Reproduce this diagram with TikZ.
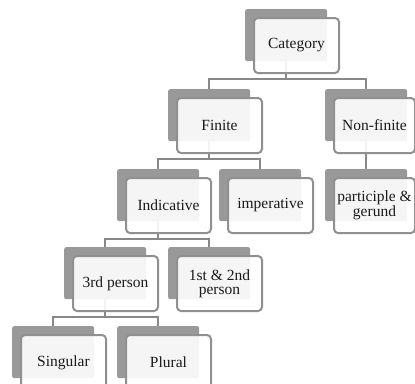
\documentclass[tikz,border=0pt]{standalone}
\usepackage{fontspec}
\setmainfont{Liberation Serif}
\definecolor{backgray}{HTML}{999999}
\definecolor{bordergray}{HTML}{909090}
\definecolor{linegray}{HTML}{888888}
\definecolor{textcol}{HTML}{1A1A1A}
\tikzset{
  backbox/.style={rectangle, fill=backgray, rounded corners=2pt, minimum width=82pt, minimum height=52pt, anchor=north west, inner sep=0pt},
  frontbox/.style={rectangle, draw=bordergray, line width=2pt, fill=white, fill opacity=0.9, text opacity=1, rounded corners=4pt, minimum width=85pt, minimum height=55pt, anchor=north west, align=center, inner sep=1pt, text=textcol, font=\fontsize{15.5}{14}\selectfont},
  conn/.style={draw=linegray, line width=2pt}
}
\begin{document}
\begin{tikzpicture}[x=1pt,y=-1pt]
\clip (0,0) rectangle (415,383);
\fill[white] (0,0) rectangle (415,383);
% back boxes
\node[backbox] (catB) at (245,9) {};
\node[backbox] (finB) at (168,89) {};
\node[backbox] (nfB) at (325,89) {};
\node[backbox] (indB) at (117,169) {};
\node[backbox] (impB) at (219,169) {};
\node[backbox] (partB) at (325,169) {};
\node[backbox] (thirdB) at (64,247) {};
\node[backbox] (firstB) at (168,247) {};
\node[backbox] (singB) at (12,326) {};
\node[backbox] (plurB) at (117,326) {};
% connectors
\draw[conn] (catB.south) -- ++(0,18) -| (finB.north);
\draw[conn] (catB.south) -- ++(0,18) -| (nfB.north);
\draw[conn] (nfB.south) -- (partB.north);
\draw[conn] (finB.south) -- ++(0,18) -| (indB.north);
\draw[conn] (finB.south) -- ++(0,18) -| (impB.north);
\draw[conn] (indB.south) -- ++(0,18) -| (thirdB.north);
\draw[conn] (indB.south) -- ++(0,18) -| (firstB.north);
\draw[conn] (thirdB.south) -- ++(0,18) -| (singB.north);
\draw[conn] (thirdB.south) -- ++(0,18) -| (plurB.north);
% front boxes
\node[frontbox] (cat) at (253,17) {Category};
\node[frontbox] (fin) at (176,97) {Finite};
\node[frontbox, minimum width=81pt] (nf) at (333,97) {Non-finite};
\node[frontbox] (ind) at (125,177) {Indicative};
\node[frontbox] (imp) at (227,177) {imperative};
\node[frontbox, minimum width=81pt] (part) at (333,177) {participle \&\\gerund};
\node[frontbox] (third) at (72,255) {3rd person};
\node[frontbox] (first) at (176,255) {1st \& 2nd\\person};
\node[frontbox] (sing) at (20,334) {Singular};
\node[frontbox] (plur) at (125,334) {Plural};
\end{tikzpicture}
\end{document}
